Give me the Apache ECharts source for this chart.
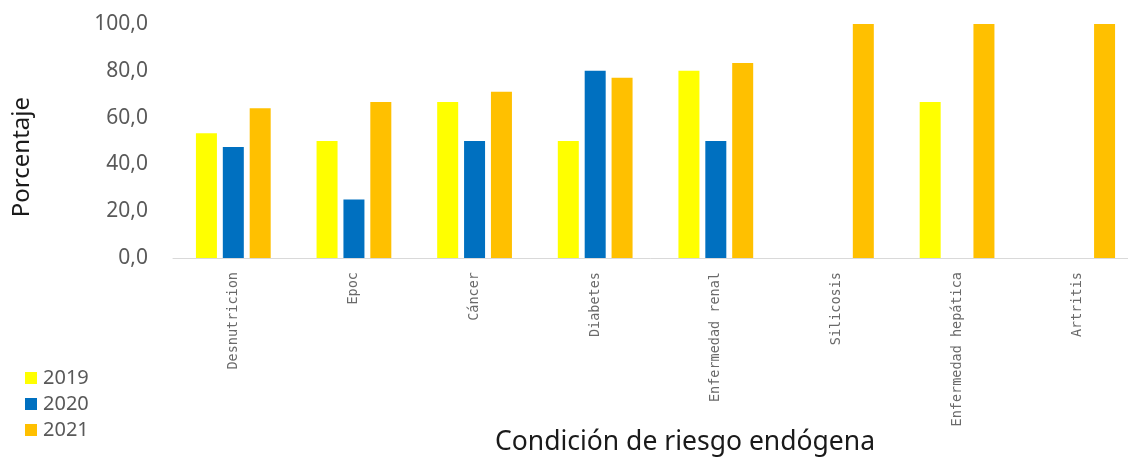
<!DOCTYPE html>
<html>
<head>
<meta charset="utf-8">
<script src="https://cdn.jsdelivr.net/npm/echarts@6/dist/echarts.min.js"></script>
<style>
html,body{margin:0;padding:0;background:#fff;}
#chart{width:1128px;height:460px;}
</style>
</head>
<body>
<div id="chart"></div>
<script>
const categories = ['Desnutricion','Epoc','Cáncer','Diabetes','Enfermedad renal','Silicosis','Enfermedad hepática','Artritis'];
const seriesNames = ['2019','2020','2021'];
const values2019 = [53.3, 50.0, 66.7, 50.0, 80.0, 0, 66.7, 0];
const values2020 = [47.4, 25.0, 50.0, 80.0, 50.0, 0, 0, 0];
const values2021 = [64.0, 66.7, 71.0, 77.0, 83.3, 100.0, 100.0, 100.0];
const yTicks = [0, 20, 40, 60, 80, 100];
const colors = ['#FFFF00', '#0070C0', '#FFC000'];

const chart = echarts.init(document.getElementById('chart'), null, {renderer: 'canvas'});
const allValues = [values2019, values2020, values2021];
const option = {
  animation: false,
  backgroundColor: '#ffffff',
  grid: {left: 173, width: 965, top: 24, bottom: 202, containLabel: false, outerBoundsMode: 'none'},
  legend: {
    data: seriesNames,
    orient: 'vertical',
    left: 20,
    top: 363,
    itemWidth: 12,
    itemHeight: 12,
    itemGap: 6,
    icon: 'rect',
    textStyle: {color: '#595959', fontSize: 20, lineHeight: 20, fontFamily: 'Noto Sans', padding: [0,0,0,1]}
  },
  xAxis: {
    type: 'category',
    data: categories,
    axisLine: {lineStyle: {color: '#d9d9d9', width: 1}},
    axisTick: {show: false},
    axisLabel: {
      interval: 0, rotate: 90, margin: 14,
      color: '#6a6a6a', fontSize: 13.5, fontFamily: 'DejaVu Sans Mono'
    }
  },
  yAxis: {
    type: 'value',
    min: 0, max: 100, interval: 20,
    axisLine: {show: false},
    axisTick: {show: false},
    splitLine: {show: false},
    axisLabel: {
      margin: 25,
      color: '#595959', fontSize: 21, fontFamily: 'Noto Sans',
      formatter: function (v) { return yTicks.indexOf(v) >= 0 ? v.toFixed(1).replace('.', ',') : ''; }
    }
  },
  graphic: [
    {type: 'text', left: 10, top: 97, rotation: Math.PI/2, style: {text: 'Porcentaje', fill: '#1a1a1a', font: '24px "Noto Sans"'}}
  ],
  title: {
    text: 'Condición de riesgo endógena',
    left: 680, top: 424, textAlign: 'center',
    textStyle: {color: '#1a1a1a', fontSize: 26.5, fontWeight: 'normal', fontFamily: 'Noto Sans'}
  },
  series: seriesNames.map(function (name, i) {
    return {
      name: name, type: 'bar', data: allValues[i],
      barWidth: 21, barGap: '28%',
      itemStyle: {color: colors[i]}
    };
  })
};
chart.setOption(option);
</script>
</body>
</html>
